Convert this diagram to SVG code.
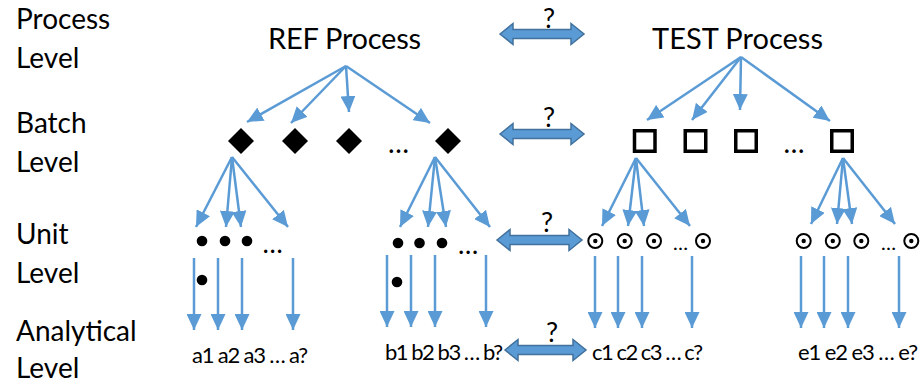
<svg xmlns="http://www.w3.org/2000/svg" width="922" height="387" viewBox="0 0 922 387">
  <style>
    text { font-family: Lato, "Open Sans", "Liberation Sans", sans-serif; fill: #000; }
    .lvl { font-size: 28px; }
    .proc { font-size: 29px; }
    .q { font-size: 27px; text-anchor: middle; }
    .ana { font-size: 22px; }
    .ell { text-anchor: middle; }
    .link { stroke: #5b9bd5; stroke-width: 2.5; fill: none; marker-end: url(#head); }
    .cmp { fill: #5b9bd5; stroke: #41719c; stroke-width: 1.5; stroke-linejoin: miter; }
    .ref { fill: #000; }
    .box { fill: #fff; stroke: #000; stroke-width: 3.5; }
    .ring { fill: #fff; stroke: #000; stroke-width: 2; }
  </style>
  <defs>
    <marker id="head" markerUnits="userSpaceOnUse" markerWidth="16" markerHeight="15" refX="16" refY="7.5" orient="auto">
      <path d="M0,0 L16,7.5 L0,15 z" fill="#5b9bd5"/>
    </marker>
    <path id="diamond" d="M0,-13 L13,0 L0,13 L-13,0 z"/>
  </defs>

  <!-- level captions -->
  <g id="levels">
    <text class="lvl" x="16" y="29">Process</text>
    <text class="lvl" x="16" y="68">Level</text>
    <text class="lvl" x="16" y="133">Batch</text>
    <text class="lvl" x="16" y="172">Level</text>
    <text class="lvl" x="16" y="244">Unit</text>
    <text class="lvl" x="16" y="283">Level</text>
    <text class="lvl" x="16" y="341">Analytical</text>
    <text class="lvl" x="16" y="378">Level</text>
  </g>

  <!-- process nodes -->
  <g id="ref-process"><text class="proc" x="268" y="49" textLength="153">REF Process</text></g>
  <g id="test-process"><text class="proc" x="652" y="49" textLength="171">TEST Process</text></g>

  <!-- reference batches -->
  <g id="ref-batches">
    <use href="#diamond" class="ref" x="241" y="141"/>
    <use href="#diamond" class="ref" x="295" y="141"/>
    <use href="#diamond" class="ref" x="349" y="141"/>
    <text class="ell" x="398.5" y="153" font-size="28">…</text>
    <use href="#diamond" class="ref" x="448" y="141"/>
  </g>

  <!-- test batches -->
  <g id="test-batches">
    <rect class="box" x="634.5" y="130.75" width="20.5" height="20.5"/>
    <rect class="box" x="685.25" y="130.75" width="20.5" height="20.5"/>
    <rect class="box" x="735.75" y="130.75" width="20.5" height="20.5"/>
    <text class="ell" x="794" y="153" font-size="28">…</text>
    <rect class="box" x="831.75" y="130.75" width="20.5" height="20.5"/>
  </g>

  <!-- reference units -->
  <g id="ref-units-1">
    <circle cx="202" cy="241" r="5.3"/>
    <circle cx="225" cy="241" r="5.3"/>
    <circle cx="247" cy="241" r="5.3"/>
    <text class="ell" x="272.5" y="253" font-size="27">…</text>
    <circle cx="202" cy="280" r="5.3"/>
  </g>
  <g id="ref-units-2">
    <circle cx="398" cy="243" r="5.3"/>
    <circle cx="419.5" cy="243" r="5.3"/>
    <circle cx="442" cy="243" r="5.3"/>
    <text class="ell" x="468" y="254" font-size="27">…</text>
    <circle cx="397" cy="282" r="5.3"/>
  </g>

  <!-- test units -->
  <g id="test-units-1">
    <circle class="ring" cx="595.3" cy="241" r="7"/><circle cx="595.3" cy="241" r="2.2"/>
    <circle class="ring" cx="624.7" cy="241" r="7"/><circle cx="624.7" cy="241" r="2.2"/>
    <circle class="ring" cx="654" cy="241" r="7"/><circle cx="654" cy="241" r="2.2"/>
    <text class="ell" x="680.5" y="250" font-size="20">…</text>
    <circle class="ring" cx="703" cy="241" r="7"/><circle cx="703" cy="241" r="2.2"/>
  </g>
  <g id="test-units-2">
    <circle class="ring" cx="803.7" cy="241" r="7"/><circle cx="803.7" cy="241" r="2.2"/>
    <circle class="ring" cx="832.8" cy="241" r="7"/><circle cx="832.8" cy="241" r="2.2"/>
    <circle class="ring" cx="861.3" cy="241" r="7"/><circle cx="861.3" cy="241" r="2.2"/>
    <text class="ell" x="888.5" y="250" font-size="20">…</text>
    <circle class="ring" cx="911.3" cy="241" r="7"/><circle cx="911.3" cy="241" r="2.2"/>
  </g>

  <!-- analytical results -->
  <g id="ref-results-a"><text class="ana" x="192" y="363" textLength="116">a1 a2 a3 … a?</text></g>
  <g id="ref-results-b"><text class="ana" x="385" y="360" textLength="118">b1 b2 b3 … b?</text></g>
  <g id="test-results-c"><text class="ana" x="592" y="360" textLength="111">c1 c2 c3 … c?</text></g>
  <g id="test-results-e"><text class="ana" x="798" y="360" textLength="120">e1 e2 e3 … e?</text></g>

  <!-- comparisons between REF and TEST -->
  <g id="comparisons">
    <path class="cmp" d="M500,34 l13,-10.5 v6 h58 v-6 l13,10.5 l-13,10.5 v-6 h-58 v6 z"/>
    <text class="q" x="549" y="28">?</text>
    <path class="cmp" d="M500,134 l13,-10.5 v6 h58 v-6 l13,10.5 l-13,10.5 v-6 h-58 v6 z"/>
    <text class="q" x="549" y="127">?</text>
    <path class="cmp" d="M497,240 l13,-10.5 v6 h59 v-6 l13,10.5 l-13,10.5 v-6 h-59 v6 z"/>
    <text class="q" x="547" y="232">?</text>
    <path class="cmp" d="M505,350 l13,-10.5 v6 h55 v-6 l13,10.5 l-13,10.5 v-6 h-55 v6 z"/>
    <text class="q" x="552" y="342">?</text>
  </g>

  <!-- hierarchy connectors -->
  <g id="connectors">
    <!-- REF process to batches -->
    <line class="link" x1="346" y1="66" x2="247" y2="122"/>
    <line class="link" x1="346" y1="66" x2="291" y2="123"/>
    <line class="link" x1="346" y1="66" x2="349" y2="112"/>
    <line class="link" x1="346" y1="66" x2="430" y2="123"/>
    <!-- TEST process to batches -->
    <line class="link" x1="741" y1="57" x2="647" y2="120"/>
    <line class="link" x1="741" y1="57" x2="692" y2="120"/>
    <line class="link" x1="741" y1="57" x2="740" y2="110"/>
    <line class="link" x1="741" y1="57" x2="830" y2="121"/>
    <!-- REF batches to units -->
    <line class="link" x1="232" y1="157" x2="196" y2="227"/>
    <line class="link" x1="232" y1="157" x2="226" y2="227"/>
    <line class="link" x1="232" y1="157" x2="241" y2="227"/>
    <line class="link" x1="232" y1="157" x2="288" y2="227"/>
    <line class="link" x1="435" y1="157" x2="400" y2="227"/>
    <line class="link" x1="435" y1="157" x2="428" y2="227"/>
    <line class="link" x1="435" y1="157" x2="446" y2="227"/>
    <line class="link" x1="435" y1="157" x2="490" y2="227"/>
    <!-- TEST batches to units -->
    <line class="link" x1="636" y1="158" x2="602" y2="226"/>
    <line class="link" x1="636" y1="158" x2="628" y2="226"/>
    <line class="link" x1="636" y1="158" x2="644" y2="226"/>
    <line class="link" x1="636" y1="158" x2="690" y2="226"/>
    <line class="link" x1="843" y1="158" x2="811" y2="224"/>
    <line class="link" x1="843" y1="158" x2="837" y2="224"/>
    <line class="link" x1="843" y1="158" x2="852" y2="224"/>
    <line class="link" x1="843" y1="158" x2="895" y2="224"/>
    <!-- units to analytical results -->
    <line class="link" x1="194" y1="258" x2="194" y2="330"/>
    <line class="link" x1="218" y1="258" x2="218" y2="330"/>
    <line class="link" x1="242" y1="258" x2="242" y2="330"/>
    <line class="link" x1="293" y1="258" x2="293" y2="330"/>
    <line class="link" x1="387" y1="255" x2="387" y2="327"/>
    <line class="link" x1="411" y1="255" x2="411" y2="327"/>
    <line class="link" x1="435" y1="255" x2="435" y2="327"/>
    <line class="link" x1="486" y1="255" x2="486" y2="327"/>
    <line class="link" x1="595" y1="256" x2="595" y2="328"/>
    <line class="link" x1="618" y1="256" x2="618" y2="328"/>
    <line class="link" x1="642" y1="256" x2="642" y2="328"/>
    <line class="link" x1="692" y1="256" x2="692" y2="328"/>
    <line class="link" x1="801" y1="256" x2="801" y2="328"/>
    <line class="link" x1="824" y1="256" x2="824" y2="328"/>
    <line class="link" x1="848" y1="256" x2="848" y2="328"/>
    <line class="link" x1="899" y1="256" x2="899" y2="328"/>
  </g>
</svg>
